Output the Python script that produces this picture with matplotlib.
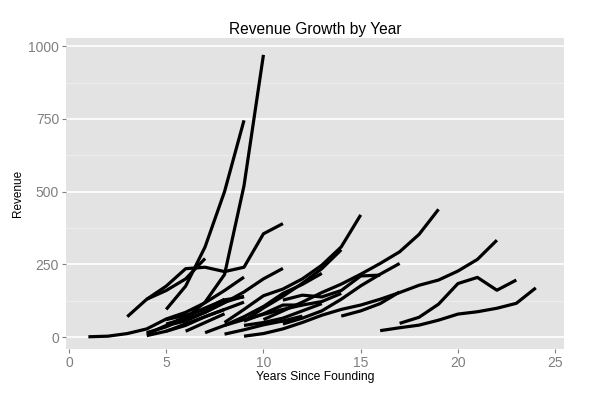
import matplotlib
matplotlib.use("Agg")
import matplotlib.pyplot as plt
import numpy as np

plt.rcParams['font.family'] = ['Liberation Sans', 'DejaVu Sans']

# first year of each company's series (years since founding)
start_year = [4, 5, 1, 3, 4, 5, 5, 6, 7, 8, 9, 8, 9, 8, 10, 11, 11, 14, 17, 16, 9, 9, 4, 4, 5, 5]

# yearly revenue for each company, beginning at start_year
revenue = [
    [15, 35, 65, 120, 215, 520, 970],
    [95, 175, 310, 500, 745],
    [1, 3, 12, 28, 62, 85, 118, 160, 206],
    [70, 130, 175, 235, 240, 225, 240, 355, 390],
    [130, 160, 200, 270],
    [45, 62, 85, 118, 155, 200, 236],
    [40, 70, 100, 128, 138],
    [20, 50, 80],
    [15, 40, 60, 78, 95, 110],
    [10, 25, 42, 55, 72],
    [3, 12, 28, 50, 75, 95, 110, 130, 153, 178, 196, 227, 267, 333],
    [50, 95, 142, 165, 200, 247, 310, 420],
    [55, 100, 140, 185, 235, 300],
    [40, 70, 105, 150, 181, 219],
    [60, 90, 120, 153, 182, 216, 253, 293, 353, 439],
    [45, 65, 90, 130, 176, 216, 253],
    [127, 144, 138, 160, 210, 213],
    [72, 90, 115, 155],
    [47, 68, 113, 184, 205, 161, 196],
    [22, 32, 41, 58, 79, 87, 99, 116, 169],
    [55, 80, 110, 110, 122, 150],
    [40, 50, 65, 90, 115],
    [5, 20, 40, 70, 95, 120],
    [10, 40, 55, 85, 120, 140],
    [20, 45, 70, 95],
    [60, 75, 95, 130],
]

x_ticks = [0, 5, 10, 15, 20, 25]
y_ticks = [0, 250, 500, 750, 1000]
y_minor = [125, 375, 625, 875]

fig = plt.figure(figsize=(6, 3.95), dpi=100)
ax = fig.add_axes([0.11, 0.1165, 0.83, 0.7873])
ax.set_facecolor('#E3E3E3')

# ggplot-like grid: horizontal only
for y in y_minor:
    ax.axhline(y, color='#F0F0F0', lw=0.6, zorder=0)
for y in y_ticks:
    ax.axhline(y, color='white', lw=1.2, zorder=0)

for s, vals in zip(start_year, revenue):
    yrs = np.arange(s, s + len(vals))
    ax.plot(yrs, vals, color='black', lw=2.3, solid_capstyle='butt',
            solid_joinstyle='round', zorder=2)

ax.set_xlim(-0.15, 25.45)
ax.set_ylim(-41, 1028)
ax.set_xticks(x_ticks)
ax.set_yticks(y_ticks)
for sp in ax.spines.values():
    sp.set_visible(False)
ax.tick_params(axis='both', colors='#7F7F7F', labelcolor='#7F7F7F',
               labelsize=10, length=3, width=0.8, pad=2)

ax.set_title("Revenue Growth by Year", fontsize=11.2, pad=3)
ax.set_xlabel("Years Since Founding", fontsize=8.7, labelpad=1)
ax.set_ylabel("Revenue", fontsize=8.5, labelpad=3)

fig.savefig("out.png", dpi=100, facecolor='white')
